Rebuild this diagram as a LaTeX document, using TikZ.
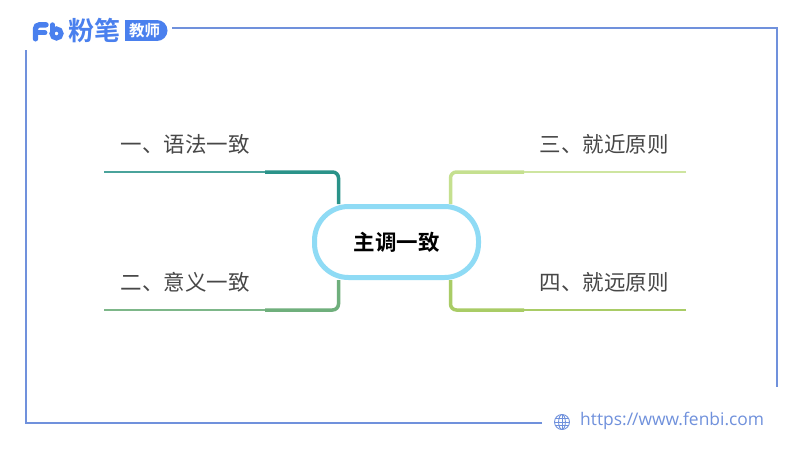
\documentclass[tikz,border=0pt]{standalone}
\usepackage{fontspec}
\setmainfont{Noto Sans CJK SC}
\newfontfamily\cjkb[BoldFont=Noto Sans CJK SC Bold]{Noto Sans CJK SC}
\newfontfamily\lat{Open Sans}
\definecolor{frameblue}{HTML}{7091DC}
\definecolor{logoblue}{HTML}{4A80EE}
\definecolor{tealA}{HTML}{2A9389}
\definecolor{greenB}{HTML}{6FAF7C}
\definecolor{limeC}{HTML}{C5E08F}
\definecolor{limeD}{HTML}{A9CC66}
\definecolor{skyc}{HTML}{8FDBF5}
\begin{document}
\begin{tikzpicture}[x=1pt,y=-1pt,
  framel/.style={frameblue,line width=1.5pt},
  leaf/.style={font=\fontsize{21.5}{22}\selectfont,text=black!72,inner sep=0pt,anchor=center},
  stem/.style={line width=3.5pt,rounded corners=6pt},
  twig/.style={line width=2pt}]
\useasboundingbox (0,0) rectangle (800,450);
\fill[white] (0,0) rectangle (800,450);
% frame
\coordinate (f1) at (172,28); \coordinate (f2) at (777,28); \coordinate (f3) at (777,387);
\coordinate (f4) at (542,423); \coordinate (f5) at (26,423); \coordinate (f6) at (26,50);
\draw[framel] (f1) -- (f2) -- (f3);
\draw[framel] (f4) -- (f5) -- (f6);
% logo mark
\draw[logoblue,line width=5.4pt,line cap=round,rounded corners=4pt] (35.5,38.8) -- (35.5,24.8) -- (46,24.8);
\draw[logoblue,line width=4.8pt,line cap=round] (36,32.8) -- (45,32.8);
\draw[logoblue,line width=5pt,line cap=round] (52.5,24.8) -- (52.5,33.5);
\draw[logoblue,line width=5pt] (56.5,33.5) circle[radius=4.6];
% logo text
\node[inner sep=0pt,text=logoblue,font=\fontsize{26}{26}\selectfont\cjkb\bfseries] (fen) at (94.5,31) {粉笔};
\fill[logoblue] (125,20) rectangle (157,41);
\fill[logoblue] (157,30.5) circle[radius=10.5];
\node[inner sep=0pt,text=white,font=\fontsize{15.5}{16}\selectfont\cjkb\bfseries] (jiao) at (144.5,30.5) {教师};
% url
\begin{scope}[shift={(562,422)},frameblue,line width=.9pt]
\draw (0,0) circle[radius=7.5];
\draw (0,0) ellipse[x radius=3.4,y radius=7.5];
\draw (-7.5,0) -- (7.5,0) (-6.5,-3.6) -- (6.5,-3.6) (-6.5,3.6) -- (6.5,3.6) (0,-7.5) -- (0,7.5);
\end{scope}
\node[inner sep=0pt,anchor=west,text=frameblue,font=\fontsize{17.4}{17}\selectfont\lat] (url) at (580,421) {https:/\kern-1pt/www.fenbi.com};
% centre
\node[draw=skyc,line width=5pt,fill=white,rounded corners=34pt,minimum width=164pt,minimum height=71pt,inner sep=0pt,font=\fontsize{21.5}{22}\selectfont\cjkb\bfseries,text=black] (c) at (396.5,242) {主调一致};
% connectors' free ends
\coordinate (a1) at (104,172); \coordinate (a2) at (265,172); \coordinate (ac) at (338.5,172);
\coordinate (b1) at (104,310); \coordinate (b2) at (265,310); \coordinate (bc) at (338.5,310);
\coordinate (d1) at (686,172); \coordinate (d2) at (524,172); \coordinate (dc) at (450.5,172);
\coordinate (e1) at (686,310); \coordinate (e2) at (524,310); \coordinate (ec) at (450.5,310);
\draw[stem,tealA] (a2) -- (ac) -- (ac |- c.north);
\draw[stem,greenB] (b2) -- (bc) -- (bc |- c.south);
\draw[stem,limeC] (d2) -- (dc) -- (dc |- c.north);
\draw[stem,limeD] (e2) -- (ec) -- (ec |- c.south);
\draw[twig,tealA!85] (a1) -- (a2);
\draw[twig,greenB!90] (b1) -- (b2);
\draw[twig,limeC!85] (d1) -- (d2);
\draw[twig,limeD] (e1) -- (e2);
% leaves
\node[leaf] (a) at (185,144) {一、语法一致};
\node[leaf] (b) at (185,282) {二、意义一致};
\node[leaf] (d) at (604,144) {三、就近原则};
\node[leaf] (e) at (604,282) {四、就远原则};
\end{tikzpicture}
\end{document}
